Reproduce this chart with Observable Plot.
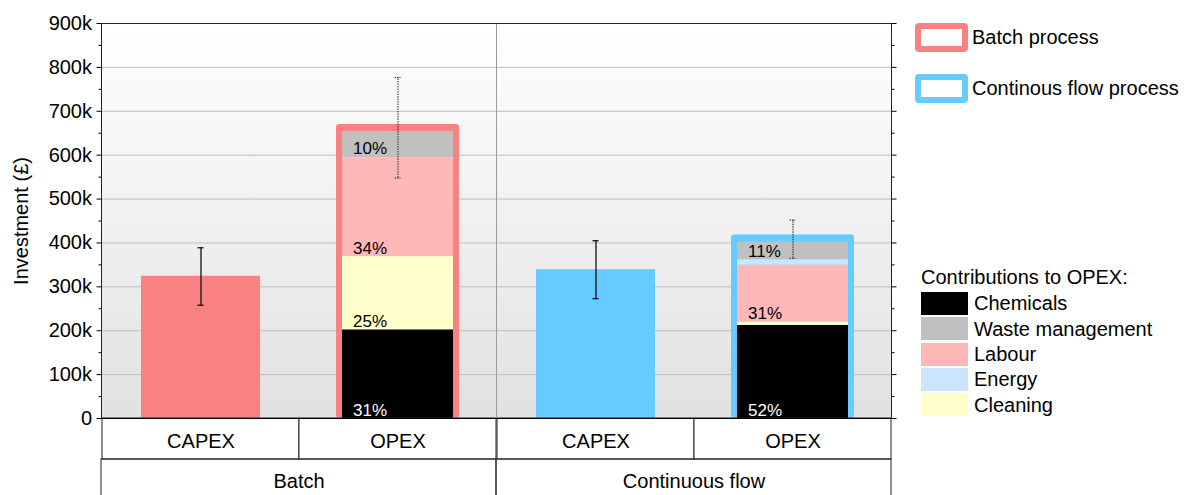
<!DOCTYPE html>
<html><head><meta charset="utf-8">
<script src="https://cdn.jsdelivr.net/npm/d3@7"></script>
<script src="https://cdn.jsdelivr.net/npm/@observablehq/plot@0.6"></script>
<style>
body{margin:0;background:#fff;font-family:"Liberation Sans",Arial,sans-serif;}
#wrap{position:relative;width:1189px;height:495px;overflow:hidden;}
.lg{position:absolute;font-size:20px;color:#000;white-space:nowrap;line-height:1;}
.sw{position:absolute;box-sizing:border-box;}
</style></head><body><div id="wrap"></div>
<script>
// ---- data ----
const processes = ["Batch", "Continuous flow"];
const costTypes = ["CAPEX", "OPEX"];
const processColors = ["#F88282", "#66CCFF"];
const capexValues = [324000, 339000];
const capexErrLow = [258000, 273000];
const capexErrHigh = [389000, 405000];
const opexErrLow = [548000, 365000];
const opexErrHigh = [777000, 452000];
const components = ["Chemicals", "Cleaning", "Labour", "Energy", "Waste management"];
const componentColors = ["#000000", "#FFFFCC", "#FFB8B8", "#CCE4FF", "#C0C0C0"];
const batchOpex = [202000, 167000, 224000, 2000, 59000];
const continuousOpex = [212000, 8000, 129000, 13000, 40000];
const batchLabels = ["31%", "25%", "34%", "", "10%"];
const continuousLabels = ["52%", "", "31%", "", "11%"];
const legendOrder = ["Chemicals", "Waste management", "Labour", "Energy", "Cleaning"];
const processLegend = ["Batch process", "Continous flow process"];
const yTicks = d3.range(0, 900001, 100000);
const yMinor = d3.range(50000, 900000, 100000);

// ---- tables ----
const capex = processes.map((p, i) => ({process: p, type: "CAPEX", value: capexValues[i], lo: capexErrLow[i], hi: capexErrHigh[i]}));
const opexErr = processes.map((p, i) => ({process: p, type: "OPEX", lo: opexErrLow[i], hi: opexErrHigh[i]}));
const opexVals = [batchOpex, continuousOpex];
const opexLabs = [batchLabels, continuousLabels];
const opex = processes.flatMap((p, i) => components.map((c, j) => ({process: p, type: "OPEX", component: c, value: opexVals[i][j], label: opexLabs[i][j]})));
const cells = processes.flatMap(p => costTypes.map(t => ({process: p, type: t})));
const groups = processes.map(p => ({process: p}));

const fmt = d => d === 0 ? "0" : (d / 1000) + "k";

const plot = Plot.plot({
  width: 1189, height: 495,
  marginLeft: 100, marginRight: 298, marginTop: 23, marginBottom: 77,
  style: {fontFamily: "'Liberation Sans', Arial, sans-serif", fontSize: "20px", color: "#000", background: "transparent"},
  fx: {domain: processes, padding: 0, label: null},
  x: {domain: costTypes, padding: 0, label: null},
  y: {domain: [0, 900000], label: null},
  color: {domain: [...components, ...processes], range: [...componentColors, ...processColors]},
  marks: [
    Plot.frame({fill: "url(#bggrad)", stroke: "none"}),
    Plot.gridY(yTicks, {stroke: "#bdbdbd", strokeOpacity: 1, strokeWidth: 1}),
    // CAPEX bars
    Plot.barY(capex, {fx: "process", x: "type", y: "value", fill: "process", insetLeft: 39, insetRight: 39}),
    // OPEX outline bars (process colour)
    Plot.barY(opex, Plot.groupX({y: "sum"}, {fx: "process", x: "type", y: "value", fill: "process", insetLeft: 37, insetRight: 37, insetTop: -7, rx: 3})),
    // OPEX stacked contributions
    Plot.barY(opex, {fx: "process", x: "type", y: "value", fill: "component", order: components, insetLeft: 43, insetRight: 43}),
    // percentage labels
    Plot.text(opex, Plot.stackY1({fx: "process", x: "type", y: "value", z: "component", order: components,
      text: d => d.component === "Chemicals" ? "" : d.label, fill: "#000", fontSize: 17,
      textAnchor: "start", lineAnchor: "bottom", dx: -45, dy: -3})),
    Plot.text(opex, Plot.stackY1({fx: "process", x: "type", y: "value", z: "component", order: components,
      text: d => d.component === "Chemicals" ? d.label : "", fill: "#fff", fontSize: 17,
      textAnchor: "start", lineAnchor: "bottom", dx: -45, dy: -3})),
    // error bars
    Plot.ruleX(capex, {fx: "process", x: "type", y1: "lo", y2: "hi", stroke: "#111", strokeWidth: 1.3}),
    Plot.tickY(capex, {fx: "process", x: "type", y: "lo", stroke: "#111", strokeWidth: 1.3, insetLeft: 95.5, insetRight: 95.5}),
    Plot.tickY(capex, {fx: "process", x: "type", y: "hi", stroke: "#111", strokeWidth: 1.3, insetLeft: 95.5, insetRight: 95.5}),
    Plot.ruleX(opexErr, {fx: "process", x: "type", y1: "lo", y2: "hi", stroke: "#222", strokeWidth: 1, strokeDasharray: "1.5,1"}),
    Plot.tickY(opexErr, {fx: "process", x: "type", y: "lo", stroke: "#222", strokeWidth: 1, strokeDasharray: "1.5,1", insetLeft: 95.5, insetRight: 95.5}),
    Plot.tickY(opexErr, {fx: "process", x: "type", y: "hi", stroke: "#222", strokeWidth: 1, strokeDasharray: "1.5,1", insetLeft: 95.5, insetRight: 95.5}),
    // category table under the plot
    Plot.barY(cells, {fx: "process", x: "type", y1: 0, y2: 0, insetBottom: -41, fill: "white", stroke: "#222", strokeWidth: 1}),
    Plot.barY(groups, {fx: "process", y1: 0, y2: 0, insetTop: 41, insetBottom: -120, fill: "none", stroke: "#222", strokeWidth: 1}),
    // frames
    Plot.frame({stroke: "#9a9a9a", strokeWidth: 1}),
    Plot.frame({anchor: "top", stroke: "#222"}),
    Plot.frame({anchor: "left", facetAnchor: "left", stroke: "#222"}),
    Plot.frame({anchor: "right", facetAnchor: "right", stroke: "#222"}),
    Plot.frame({anchor: "bottom", stroke: "#000"}),
    // axes
    Plot.axisY(yTicks, {anchor: "left", tickSize: 4.5, tickPadding: 5, tickFormat: fmt,
      label: "Investment (£)", labelAnchor: "center", labelOffset: 88, labelArrow: "none"}),
    Plot.axisY(yMinor, {anchor: "left", tickSize: 2.5, tickFormat: () => "", label: null}),
    Plot.axisY(yTicks, {anchor: "right", tickSize: 4.5, tickFormat: () => "", label: null}),
    Plot.axisY(yMinor, {anchor: "right", tickSize: 2.5, tickFormat: () => "", label: null}),
    Plot.axisX({anchor: "bottom", tickSize: 0, tickPadding: 15, label: null}),
    Plot.axisFx({anchor: "bottom", tickSize: 0, tickPadding: 55, label: null})
  ]
});

// gradient background definition
const svgNS = "http://www.w3.org/2000/svg";
const svg = plot.tagName.toLowerCase() === "svg" ? plot : plot.querySelector("svg");
const defs = document.createElementNS(svgNS, "defs");
const grad = document.createElementNS(svgNS, "linearGradient");
grad.setAttribute("id", "bggrad");
grad.setAttribute("x1", "0"); grad.setAttribute("y1", "0");
grad.setAttribute("x2", "0"); grad.setAttribute("y2", "1");
[["0", "#ffffff"], ["1", "#e1e1e1"]].forEach(([o, c]) => {
  const s = document.createElementNS(svgNS, "stop");
  s.setAttribute("offset", o); s.setAttribute("stop-color", c);
  grad.appendChild(s);
});
defs.appendChild(grad);
svg.insertBefore(defs, svg.firstChild);

const wrap = document.getElementById("wrap");
wrap.appendChild(plot);

// ---- legends ----
function el(cls, css, text) {
  const d = document.createElement("div");
  d.className = cls;
  Object.assign(d.style, css);
  if (text != null) d.textContent = text;
  wrap.appendChild(d);
  return d;
}
processLegend.forEach((name, i) => {
  const top = 23 + i * 50.6;
  el("sw", {left: "915px", top: top + "px", width: "53px", height: "29px", border: "6px solid " + processColors[i], borderRadius: "4px", background: "#fff"});
  el("lg", {left: "972px", top: (top + 4.2) + "px"}, name);
});
el("lg", {left: "921px", top: "267.4px"}, "Contributions to OPEX:");
legendOrder.forEach((c, i) => {
  const top = 291.7 + i * 25.4;
  el("sw", {left: "921px", top: top + "px", width: "47px", height: "23px", background: componentColors[components.indexOf(c)]});
  el("lg", {left: "974px", top: (top + 1.4) + "px"}, c);
});
</script></body></html>
